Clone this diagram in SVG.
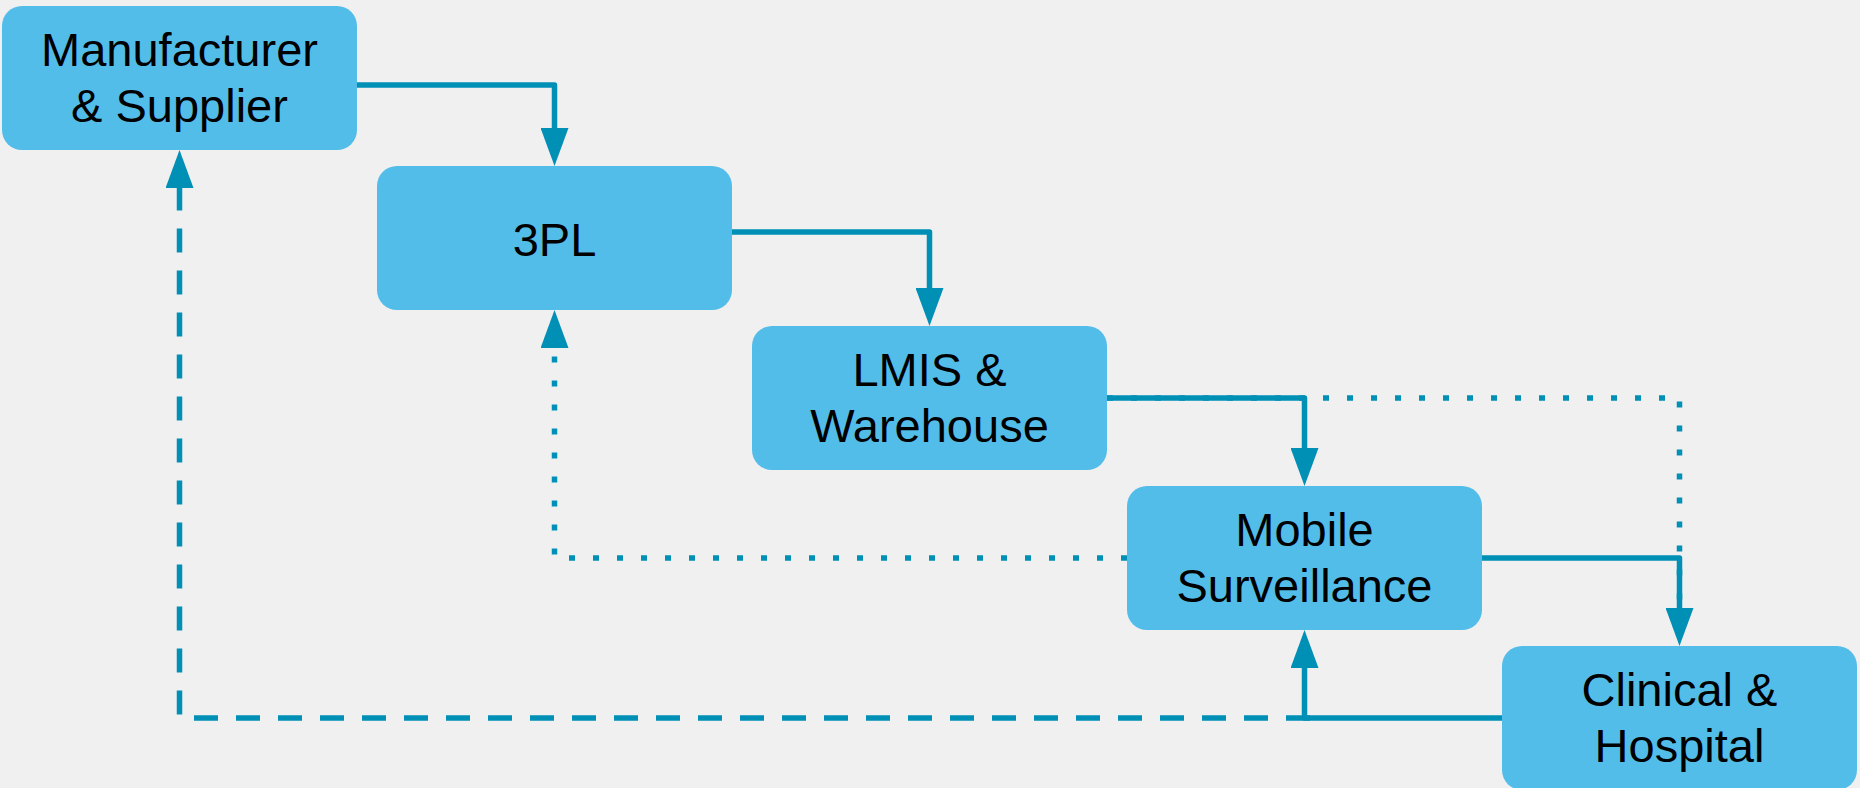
<svg xmlns="http://www.w3.org/2000/svg" width="1860" height="788" viewBox="0 0 1860 788">
<style>
.node rect{fill:#53BDEA;}
.node text{font-family:"Liberation Sans",Arial,sans-serif;font-size:47px;fill:#000;text-anchor:middle;}
.conn path{fill:none;stroke:#0090B6;stroke-width:5.5;stroke-linejoin:round;}
.conn .dash{stroke-dasharray:24 18;}
.conn .dot{stroke-dasharray:6 18;}
</style>
<defs>
<marker id="arr" viewBox="0 0 38 28" refX="0" refY="14" markerWidth="38" markerHeight="28" markerUnits="userSpaceOnUse" orient="auto">
<path d="M0,0 L38,14 L0,28 Z" fill="#0090B6"/>
</marker>
</defs>
<rect width="1860" height="788" fill="#F0F0F0"/>
<g id="connectors" class="conn">
<path class="dot" d="M1107,398 H1679.5 V608"/>
<path class="dot" d="M1127,558 H554.5 V348" marker-end="url(#arr)"/>
<path class="dash" d="M1310,718 H179.5 V188" marker-end="url(#arr)"/>
<path d="M357,85 H554.5 V128" marker-end="url(#arr)"/>
<path d="M732,232 H929.5 V288" marker-end="url(#arr)"/>
<path d="M1107,398 H1304.5 V448" marker-end="url(#arr)"/>
<path d="M1482,558 H1679.5 V608" marker-end="url(#arr)"/>
<path d="M1502,718 H1304.5 V668" marker-end="url(#arr)"/>
</g>
<g id="manufacturer" class="node">
<rect x="2" y="6" width="355" height="144" rx="20"/>
<text x="179.5" y="66">Manufacturer</text>
<text x="179.5" y="122">&amp; Supplier</text>
</g>
<g id="threepl" class="node">
<rect x="377" y="166" width="355" height="144" rx="20"/>
<text x="554.5" y="256">3PL</text>
</g>
<g id="lmis" class="node">
<rect x="752" y="326" width="355" height="144" rx="20"/>
<text x="929.5" y="386">LMIS &amp;</text>
<text x="929.5" y="442">Warehouse</text>
</g>
<g id="mobile" class="node">
<rect x="1127" y="486" width="355" height="144" rx="20"/>
<text x="1304.5" y="546">Mobile</text>
<text x="1304.5" y="602">Surveillance</text>
</g>
<g id="clinical" class="node">
<rect x="1502" y="646" width="355" height="144" rx="20"/>
<text x="1679.5" y="706">Clinical &amp;</text>
<text x="1679.5" y="762">Hospital</text>
</g>
</svg>
